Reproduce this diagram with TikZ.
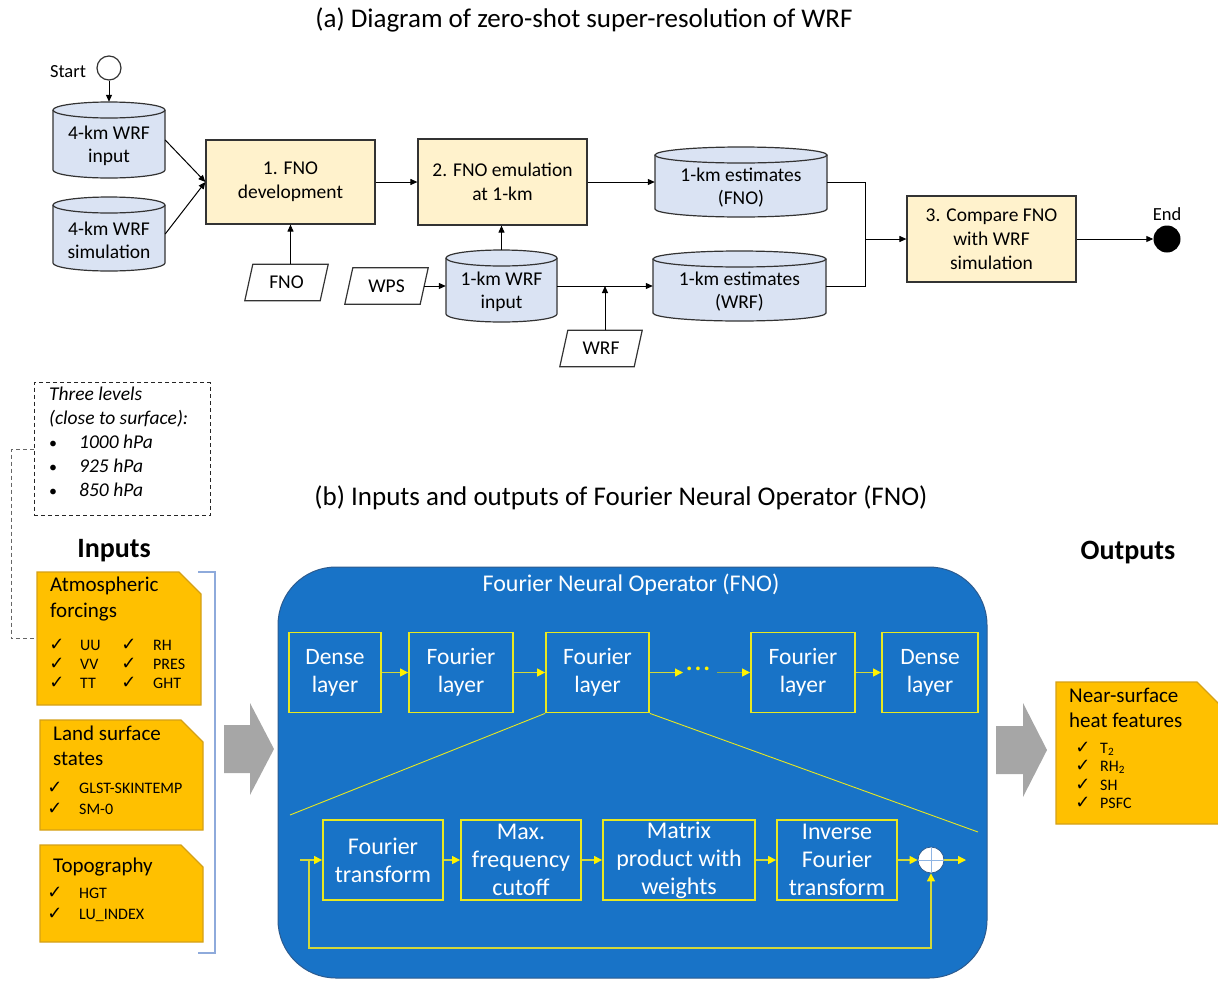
\documentclass[tikz,border=0pt]{standalone}
\usepackage{fontspec}
\setmainfont{Carlito}
\newfontfamily\dejavu{DejaVu Sans}
\usetikzlibrary{arrows.meta}
\definecolor{cylblue}{HTML}{DAE3F3}
\definecolor{procy}{HTML}{FFF2CC}
\definecolor{edge}{HTML}{333333}
\definecolor{orangef}{HTML}{FFC000}
\definecolor{inedge}{HTML}{D4A017}
\definecolor{fnoblue}{HTML}{1873C7}
\definecolor{fnoedge}{HTML}{2C5B8F}
\definecolor{ylw}{HTML}{E8E820}
\definecolor{yshaft}{HTML}{D2D83A}
\definecolor{oliveline}{HTML}{93AE4A}
\definecolor{grayarr}{HTML}{A6A6A6}
\definecolor{brk}{HTML}{8EAADB}
\definecolor{pluscross}{HTML}{8EB4E3}
\newcommand\myfs[2]{\fontsize{#1}{#2}\selectfont}
\newcommand\cylnode[6]{%
 \pgfmathsetmacro\mcx{(#2+#4)/2}%
 \pgfmathsetmacro\mrx{(#4-#2)/2}%
 \pgfmathsetmacro\mcy{(#3+#5)/2}%
 \pgfmathsetmacro\mkx{0.5523*\mrx}%
 \pgfmathsetmacro\mw{#4-#2}%
 \pgfmathsetmacro\mh{#5-#3}%
 \path[cylshape] (#2,#3+8) -- (#2,#5-8) .. controls (#2,#5-3.58) and (\mcx-\mkx,#5) .. (\mcx,#5) .. controls (\mcx+\mkx,#5) and (#4,#5-3.58) .. (#4,#5-8) -- (#4,#3+8);
 \path[cylshape] (\mcx,#3+8) ellipse [x radius=\mrx, y radius=8];
 \node[minimum width=\mw pt, minimum height=\mh pt, inner sep=0] (#1) at (\mcx,\mcy) {};
 \node[ctext] (#1-t) at (\mcx,\mcy+6) {#6};
}
\newcommand\paranode[5]{%
 \node[paratext, minimum width=#4pt] (#1) at (#2,#3) {#5};
 \draw[parashape] ([xshift=-4pt]#1.south west) -- ([xshift=4pt]#1.north west) -- ([xshift=4pt]#1.north east) -- ([xshift=-4pt]#1.south east) -- cycle;
}
\newcommand\foldbox[5]{%
 \draw[inbox] (#2,#3) -- (#4-22,#3) -- (#4,#3+22) -- (#4,#5) -- (#2,#5) -- cycle;
 \pgfmathsetmacro\mw{#4-#2}\pgfmathsetmacro\mh{#5-#3}%
 \node[minimum width=\mw pt, minimum height=\mh pt, inner sep=0] (#1) at ({(#2+#4)/2},{(#3+#5)/2}) {};
}
\newcommand\ckrow[5]{%
 \node[cktext] (#1-c) at (#2,#4) {✓};
 \node[rowtext] (#1) at (#3,#4) {#5};
}
\begin{document}
\begin{tikzpicture}[x=1pt,y=1pt,yscale=-1,
 arr/.style={draw=black, line width=1pt, -{Triangle[length=7pt,width=6pt]}},
 proc/.style={draw=edge, fill=procy, line width=1.2pt, align=center, inner sep=0, font=\myfs{19.5}{24}},
 cylshape/.style={draw=edge, fill=cylblue, line width=1.2pt},
 ctext/.style={align=center, inner sep=0, font=\myfs{19.5}{23}},
 paratext/.style={minimum height=36pt, inner sep=0, font=\myfs{19.5}{23}},
 parashape/.style={draw=edge, line width=1.2pt},
 inbox/.style={draw=inedge, fill=orangef, line width=1.2pt},
 head/.style={anchor=west, inner sep=0, font=\myfs{21}{25}, text height=0.7em, text depth=0.1em},
 rowtext/.style={anchor=west, inner sep=0, font=\myfs{16}{18}, text height=0.7em, text depth=0.1em},
 cktext/.style={inner sep=0, font=\dejavu\myfs{18}{18}, text height=0.7em, text depth=0pt},
 ital/.style={anchor=west, inner sep=0, font=\itshape\myfs{19.5}{22}, text height=0.7em, text depth=0.1em},
 layer/.style={draw=ylw, line width=1.8pt, text=white, align=center, inner sep=0, font=\myfs{23.5}{28}, minimum height=80pt},
 yarr/.style={draw=yshaft, line width=1.2pt, -{Triangle[length=8pt,width=8pt,color=yellow]}},
 ythin/.style={draw=ylw, line width=0.9pt},
]
\useasboundingbox (0,0) rectangle (1218,983);

% ---------------- (a) ----------------
\node[font=\myfs{27}{30}] (ta) at (584,20) {(a) Diagram of zero-shot super-resolution of WRF};

\node[circle, draw=edge, fill=white, line width=1.2pt, minimum size=24pt, inner sep=0] (start) at (109,68) {};
\node[font=\myfs{18.5}{22}, inner sep=0] (startl) at (68,72) {Start};

\cylnode{c4in}{53}{102}{165}{178}{4-km WRF\\input}
\cylnode{c4sim}{53}{197}{165}{271}{4-km WRF\\simulation}
\cylnode{c1fno}{655}{147}{827}{217}{1-km estimates\\(FNO)}
\cylnode{c1in}{446}{250}{557}{322}{1-km WRF\\input}
\cylnode{c1wrf}{653}{251}{826}{321}{1-km estimates\\(WRF)}

\node[proc, minimum width=169pt, minimum height=84pt] (b1) at (290.5,182) {1. FNO\\development};
\node[proc, minimum width=169pt, minimum height=86pt] (b2) at (502.5,182) {2. FNO emulation\\at 1-km};
\node[proc, minimum width=169pt, minimum height=86pt] (b3) at (991.5,239) {3. Compare FNO\\with WRF\\simulation};

\paranode{pfno}{286.5}{282.5}{75}{FNO}
\paranode{pwps}{386.5}{286}{75}{WPS}
\paranode{pwrf}{601}{348.5}{74}{WRF}

\node[circle, fill=black, minimum size=27pt, inner sep=0] (endc) at (1167,239) {};
\node[font=\myfs{18.5}{22}, inner sep=0] (endl) at (1167,214) {End};

\draw[arr] (start) -- (c4in.north);
\draw[arr] (c4in.east) -- (b1.west);
\draw[arr] (c4sim.east) -- (b1.west);
\draw[arr] (b1.east) -- (b2.west);
\draw[arr] (b2.east) -- (c1fno.west);
\draw[arr] (pfno.north -| b1.south) -- (b1.south);
\draw[arr] (c1in.north) -- (c1in.north |- b2.south);
\draw[arr] (pwps.east) -- (c1in.west);
\draw[arr] (c1in.east) -- (c1wrf.west);
\coordinate (wrftop) at ([xshift=4pt]pwrf.north);
\draw[arr] (wrftop) -- (wrftop |- c1in.east);
\coordinate (jn) at (865,239);
\draw[line width=1pt] (c1fno.east) -| (jn);
\draw[line width=1pt] (c1wrf.east) -| (jn);
\draw[arr] (jn) -- (b3.west);
\draw[arr] (b3.east) -- (endc.west);

% ---------------- (b) ----------------
\node[draw=black!85, dash pattern=on 4pt off 3pt, line width=1pt, minimum width=176pt, minimum height=133pt, inner sep=0] (dbox) at (122,449) {};
\node[ital] (d1) at (49,397) {Three levels};
\node[ital] (d2) at (49,421) {(close to surface):};
\node[ital, font=\myfs{16}{20}] (d3b) at (49,445) {\textbullet};
\node[ital] (d3) at (79,445) {1000 hPa};
\node[ital, font=\myfs{16}{20}] (d4b) at (49,469) {\textbullet};
\node[ital] (d4) at (79,469) {925 hPa};
\node[ital, font=\myfs{16}{20}] (d5b) at (49,493) {\textbullet};
\node[ital] (d5) at (79,493) {850 hPa};

\node[font=\myfs{27}{30}] (tb) at (621,498) {(b) Inputs and outputs of Fourier Neural Operator (FNO)};

\node[font=\bfseries\myfs{28}{32}] (inl) at (114,551) {Inputs};
\node[font=\bfseries\myfs{28}{32}] (outl) at (1128,553) {Outputs};

% input boxes
\foldbox{in1}{37}{572}{201}{705}
\foldbox{in2}{40}{720}{203}{830}
\foldbox{in3}{40}{845}{203}{942}
\coordinate (dk) at (11,449);
\draw[draw=black!60, dash pattern=on 4pt off 3pt, line width=0.9pt] (dbox.west) -- (dk) |- (in1.west);

\node[head] (h1a) at (50,588) {Atmospheric};
\node[head] (h1b) at (50,614) {forcings};
\ckrow{uu}{57}{80}{647}{UU}
\ckrow{vv}{57}{80}{666}{VV}
\ckrow{tt}{57}{80}{685}{TT}
\ckrow{rh}{129}{153}{647}{RH}
\ckrow{pres}{129}{153}{666}{PRES}
\ckrow{ght}{129}{153}{685}{GHT}

\node[head] (h2a) at (53,737) {Land surface};
\node[head] (h2b) at (53,762) {states};
\ckrow{glst}{55}{79}{790}{GLST-SKINTEMP}
\ckrow{sm}{55}{79}{811}{SM-0}

\node[head] (h3a) at (53,869) {Topography};
\ckrow{hgt}{55}{79}{895}{HGT}
\ckrow{lu}{55}{79}{916}{LU\_INDEX}

\draw[brk, line width=1.2pt] (198,572) -- (215,572) -- (215,953) -- (198,953);

% gray arrows
\fill[grayarr] (224,725) -- (250,725) -- (250,703) -- (274,749) -- (250,795) -- (250,773) -- (224,773) -- cycle;
\fill[grayarr] (996,726) -- (1023,726) -- (1023,703) -- (1047,750) -- (1023,797) -- (1023,774) -- (996,774) -- cycle;

% output box
\draw[inbox] (1056,682) -- (1197,682) -- (1240,725) -- (1240,824) -- (1056,824) -- cycle;
\node[minimum width=162pt, minimum height=142pt, inner sep=0] (outbox) at (1137,753) {};
\node[head] (hoa) at (1069,699) {Near-surface};
\node[head] (hob) at (1069,724) {heat features};
\ckrow{t2}{1083}{1100}{750}{T\textsubscript{2}}
\ckrow{rh2}{1083}{1100}{768}{RH\textsubscript{2}}
\ckrow{sh}{1083}{1100}{787}{SH}
\ckrow{psfc}{1083}{1100}{805}{PSFC}

% FNO block
\node[draw=fnoedge, fill=fnoblue, line width=1pt, rounded corners=58pt, minimum width=709pt, minimum height=411pt, inner sep=0] (fno) at (632.5,772.5) {};
\node[text=white, font=\myfs{24}{28}] (fnot) at (631,585) {Fourier Neural Operator (FNO)};

\node[layer, minimum width=92pt] (L1) at (335,672.5) {Dense\\layer};
\node[layer, minimum width=104pt] (L2) at (461,672.5) {Fourier\\layer};
\node[layer, minimum width=103pt] (L3) at (597.5,672.5) {Fourier\\layer};
\node[layer, minimum width=104pt] (L4) at (803,672.5) {Fourier\\layer};
\node[layer, minimum width=96pt] (L5) at (930,672.5) {Dense\\layer};
\node[text=yellow, font=\bfseries\myfs{20}{20}, inner sep=0, text height=0.45em, text depth=0pt] (dots) at (698,672.5) {·\,·\,·};
\coordinate (dotsin) at (683,672.5);
\coordinate (dotsout) at (717,672.5);

\draw[yarr] (L1.east) -- (L2.west);
\draw[yarr] (L2.east) -- (L3.west);
\draw[yarr] (L3.east) -- (dotsin);
\draw[yarr, draw=oliveline] (dotsout) -- (L4.west);
\draw[yarr] (L4.east) -- (L5.west);

\coordinate (zl) at (290,815);
\coordinate (zr) at (978,832);
\draw[ythin] (L3.south west) -- (zl);
\draw[ythin] (L3.south east) -- (zr);

\node[layer, minimum width=120pt, font=\myfs{24}{28}] (B1) at (383,860) {Fourier\\transform};
\node[layer, minimum width=120pt, font=\myfs{24}{28}] (B2) at (521,860) {Max.\\frequency\\cutoff};
\node[layer, minimum width=152pt, font=\myfs{24}{28}] (B3) at (679,860) {Matrix\\product with\\weights};
\node[layer, minimum width=120pt, font=\myfs{24}{28}] (B4) at (837,860) {Inverse\\Fourier\\transform};
\node[circle, fill=white, draw=fnoedge, line width=0.8pt, minimum size=26pt, inner sep=0] (plus) at (931,860) {};
\draw[pluscross, line width=1pt] (plus.north) -- (plus.south);
\draw[pluscross, line width=1pt] (plus.west) -- (plus.east);

\coordinate (inp) at (300,860);
\coordinate (fb) at (309,860);
\coordinate (fbb) at (931,948);
\coordinate (outp) at (966,860);
\draw[yarr] (inp) -- (B1.west);
\draw[yarr] (B1.east) -- (B2.west);
\draw[yarr] (B2.east) -- (B3.west);
\draw[yarr] (B3.east) -- (B4.west);
\draw[yarr] (B4.east) -- (plus.west);
\draw[yarr] (plus.east) -- (outp);
\draw[yarr] (fb) |- (fbb) -- (plus.south);
\end{tikzpicture}
\end{document}
